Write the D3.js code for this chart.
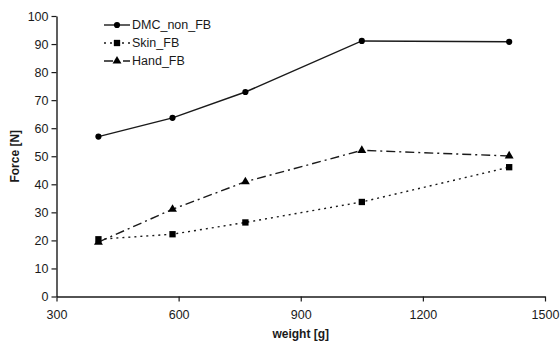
<!DOCTYPE html>
<html>
<head>
<meta charset="utf-8">
<script src="https://cdn.jsdelivr.net/npm/d3@7"></script>
<style>
  html, body { margin: 0; padding: 0; background: #fff; }
  svg { display: block; font-family: "Liberation Sans", Arial, sans-serif; }
</style>
</head>
<body>
<svg id="chart" width="560" height="342"></svg>
<script>
// Measured grip force versus object weight
const weights = [403, 585, 764, 1050, 1412];
const dmcNonFB = [57.0, 63.7, 72.9, 91.1, 90.8];
const skinFB = [20.4, 22.2, 26.4, 33.7, 46.1];
const handFB = [19.4, 31.1, 40.9, 52.1, 50.1];
const seriesNames = ["DMC_non_FB", "Skin_FB", "Hand_FB"];
const xTicks = [300, 600, 900, 1200, 1500];
const yTicks = [0, 10, 20, 30, 40, 50, 60, 70, 80, 90, 100];

const svg = d3.select("#chart");
const ink = "#1a1a1a";

const x = d3.scaleLinear().domain([300, 1500]).range([56.5, 545]);
const y = d3.scaleLinear().domain([0, 100]).range([296.5, 16]);

// Axes
const xAxis = svg.append("g")
  .attr("transform", `translate(0,${y(0)})`)
  .call(d3.axisBottom(x).tickValues(xTicks).tickFormat(d3.format("d"))
    .tickSize(5).tickSizeOuter(0).tickPadding(9));
const yAxis = svg.append("g")
  .attr("transform", `translate(${x(300)},0)`)
  .call(d3.axisLeft(y).tickValues(yTicks).tickFormat(d3.format("d"))
    .tickSize(5).tickSizeOuter(0).tickPadding(3));

[xAxis, yAxis].forEach(g => {
  g.select(".domain").attr("stroke", ink).attr("stroke-width", 1.4);
  g.selectAll(".tick line").attr("stroke", ink).attr("stroke-width", 1.2);
  g.selectAll(".tick text").attr("fill", ink).attr("font-size", 12.5)
    .attr("font-family", "'Liberation Sans', Arial, sans-serif");
});

// Axis titles
svg.append("text")
  .attr("x", x(900)).attr("y", 338)
  .attr("text-anchor", "middle")
  .attr("font-size", 12).attr("font-weight", "bold").attr("fill", ink)
  .text("weight [g]");
svg.append("text")
  .attr("transform", `translate(19,${y(50)}) rotate(-90)`)
  .attr("text-anchor", "middle")
  .attr("font-size", 12).attr("font-weight", "bold").attr("fill", ink)
  .text("Force [N]");

const series = [
  { name: seriesNames[0], values: dmcNonFB, dash: null, marker: "circle" },
  { name: seriesNames[1], values: skinFB, dash: "2,4", marker: "square" },
  { name: seriesNames[2], values: handFB, dash: "9,4,2,4", marker: "triangle" }
];

const line = d3.line().x((d, i) => x(weights[i])).y(d => y(d));

const symbolFor = m => m === "circle" ? d3.symbolCircle : m === "square" ? d3.symbolSquare : d3.symbolTriangle;
const sizeFor = m => m === "circle" ? 30 : m === "square" ? 40 : 34;

series.forEach(s => {
  svg.append("path")
    .datum(s.values)
    .attr("d", line)
    .attr("fill", "none")
    .attr("stroke", ink)
    .attr("stroke-width", 1.4)
    .attr("stroke-dasharray", s.dash);
  svg.append("g").selectAll("path")
    .data(s.values)
    .join("path")
    .attr("transform", (d, i) => `translate(${x(weights[i])},${y(d)})`)
    .attr("d", d3.symbol().type(symbolFor(s.marker)).size(sizeFor(s.marker)))
    .attr("fill", "#000");
});

// Legend
const legend = svg.append("g").attr("transform", "translate(104,25)");
series.forEach((s, i) => {
  const row = legend.append("g").attr("transform", `translate(0,${i * 18})`);
  row.append("line")
    .attr("x1", 0).attr("x2", 26).attr("y1", 0).attr("y2", 0)
    .attr("stroke", ink).attr("stroke-width", 1.4)
    .attr("stroke-dasharray", s.dash);
  row.append("path")
    .attr("transform", "translate(13,0)")
    .attr("d", d3.symbol().type(symbolFor(s.marker)).size(sizeFor(s.marker)))
    .attr("fill", "#000");
  row.append("text")
    .attr("x", 28).attr("y", 0).attr("dy", "0.35em")
    .attr("font-size", 12.5).attr("fill", ink)
    .text(s.name);
});
</script>
</body>
</html>
